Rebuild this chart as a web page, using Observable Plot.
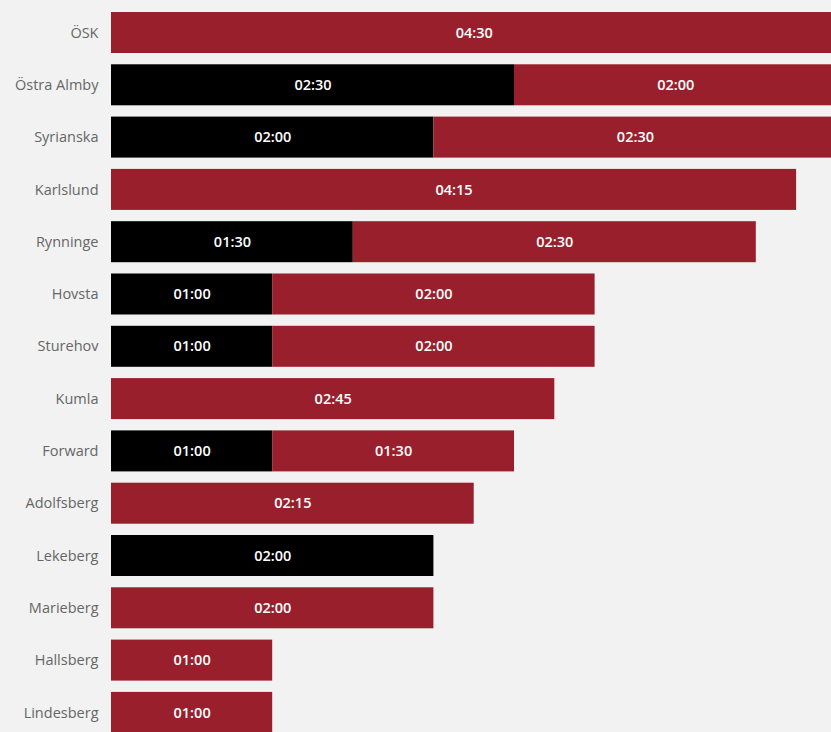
<!DOCTYPE html>
<html>
<head>
<meta charset="utf-8">
<script src="https://cdn.jsdelivr.net/npm/d3@7"></script>
<script src="https://cdn.jsdelivr.net/npm/@observablehq/plot@0.6"></script>
<style>
  html, body { margin: 0; padding: 0; background: #f2f2f2; overflow: hidden; }
  #chart svg { display: block; overflow: hidden; }
</style>
</head>
<body>
<div id="chart"></div>
<script>
const teams = ["ÖSK","Östra Almby","Syrianska","Karlslund","Rynninge","Hovsta","Sturehov","Kumla","Forward","Adolfsberg","Lekeberg","Marieberg","Hallsberg","Lindesberg"];
// minutes per team, two series
const firstMinutes  = [0, 150, 120, 0, 90, 60, 60, 0, 60, 0, 120, 0, 0, 0];
const secondMinutes = [270, 120, 150, 255, 150, 120, 120, 165, 90, 135, 0, 120, 60, 60];
const seriesNames = ["first", "second"];
const seriesColors = ["#000000", "#9a1f2c"];

const rows = [];
teams.forEach((t, i) => {
  if (firstMinutes[i] > 0) rows.push({team: t, series: "first", minutes: firstMinutes[i]});
  if (secondMinutes[i] > 0) rows.push({team: t, series: "second", minutes: secondMinutes[i]});
});
const fmt = m => String(Math.floor(m / 60)).padStart(2, "0") + ":" + String(m % 60).padStart(2, "0");

const W = 831, H = 732;
const chart = Plot.plot({
  width: W,
  height: H,
  marginLeft: 111,
  marginRight: 0,
  marginTop: 0,
  marginBottom: 0,
  style: {background: "#f2f2f2", color: "#666", fontFamily: "'Open Sans', sans-serif", fontSize: "14px"},
  x: {domain: [0, 720 / 161.2 * 60], range: [111, 831], axis: null},
  y: {domain: teams, range: [6.35, 738.55], paddingInner: 0.216, paddingOuter: 0.108, align: 0.5, round: false, label: null},
  color: {domain: seriesNames, range: seriesColors},
  marks: [
    Plot.barX(rows, Plot.stackX({x: "minutes", y: "team", fill: "series", order: seriesNames, inset: 0})),
    Plot.textX(rows, Plot.stackX({x: "minutes", y: "team", z: "series", order: seriesNames, text: d => fmt(d.minutes), fill: "white", fontSize: 14.5, fontWeight: 600})),
    Plot.axisY({tickSize: 0, tickPadding: 13, fontSize: 14.5, fill: "#666", label: null})
  ]
});
document.getElementById("chart").appendChild(chart);
</script>
</body>
</html>
